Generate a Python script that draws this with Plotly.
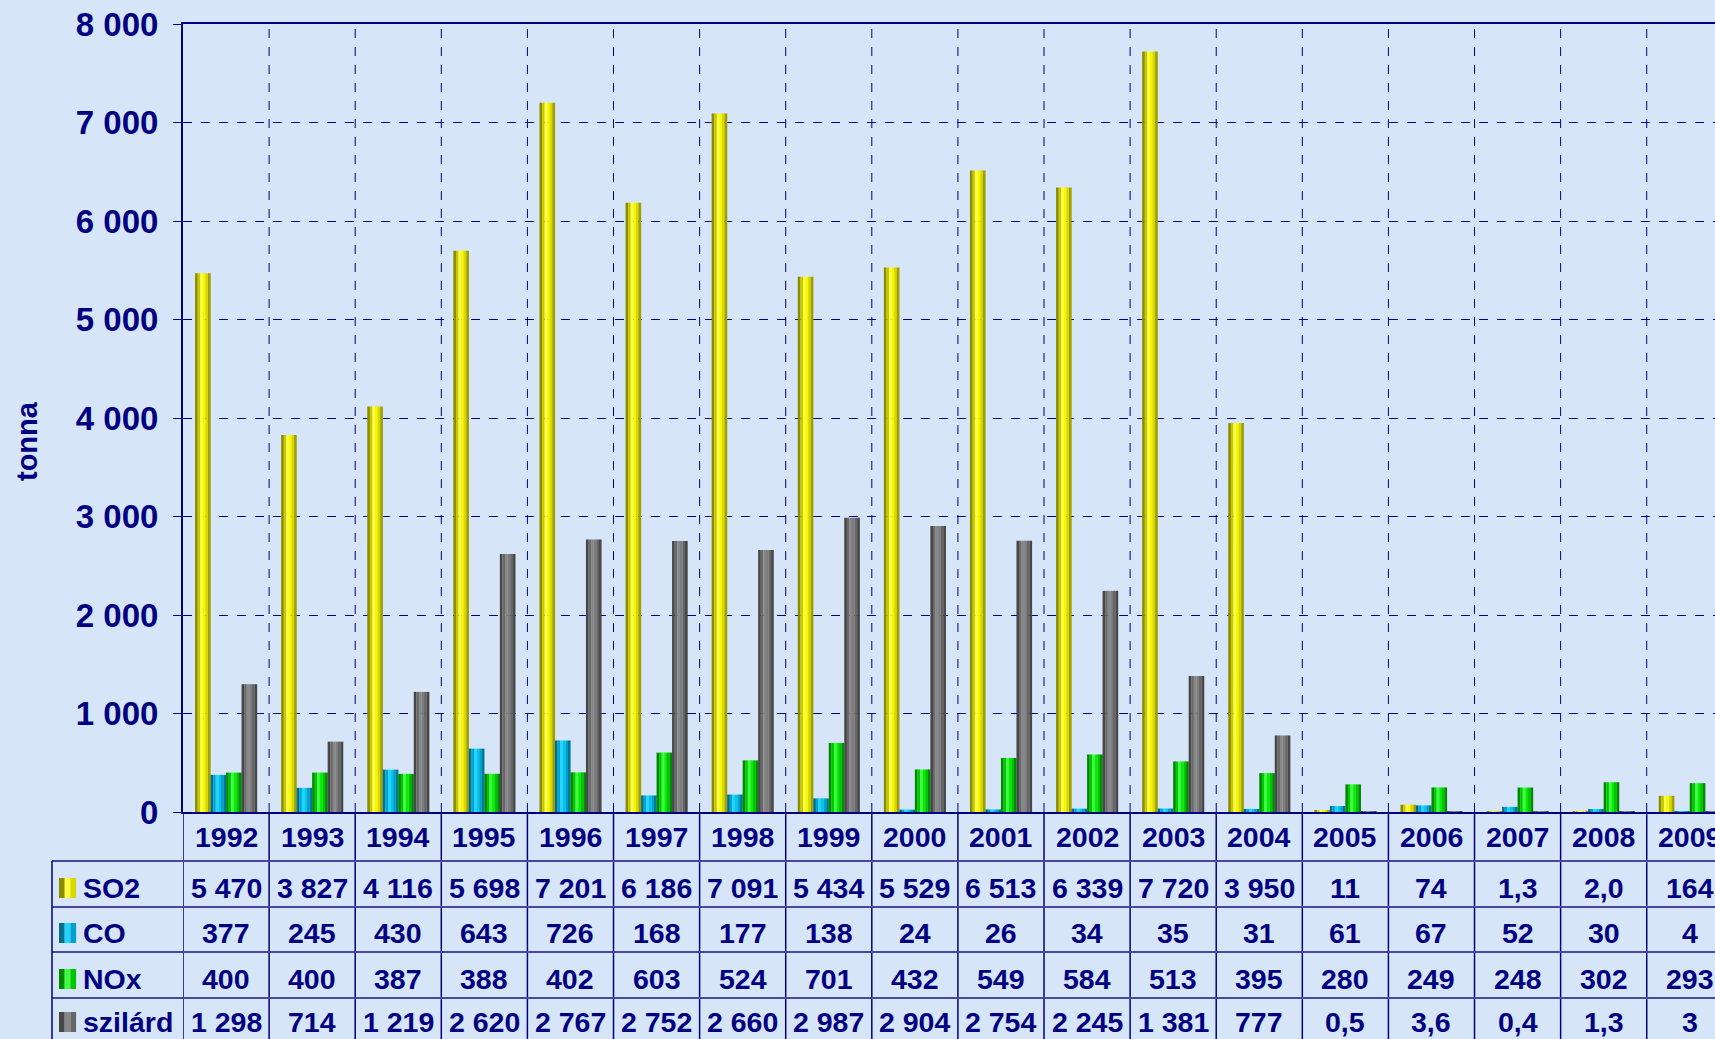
import plotly.graph_objects as go

years = ["1992", "1993", "1994", "1995", "1996", "1997", "1998", "1999", "2000",
         "2001", "2002", "2003", "2004", "2005", "2006", "2007", "2008", "2009"]
series_names = ["SO2", "CO", "NOx", "szilárd"]
so2 = [5470, 3827, 4116, 5698, 7201, 6186, 7091, 5434, 5529, 6513, 6339, 7720, 3950, 11, 74, 1.3, 2.0, 164]
co = [377, 245, 430, 643, 726, 168, 177, 138, 24, 26, 34, 35, 31, 61, 67, 52, 30, 4]
nox = [400, 400, 387, 388, 402, 603, 524, 701, 432, 549, 584, 513, 395, 280, 249, 248, 302, 293]
szilard = [1298, 714, 1219, 2620, 2767, 2752, 2660, 2987, 2904, 2754, 2245, 1381, 777, 0.5, 3.6, 0.4, 1.3, 3]
so2_text = ["5 470", "3 827", "4 116", "5 698", "7 201", "6 186", "7 091", "5 434", "5 529", "6 513",
            "6 339", "7 720", "3 950", "11", "74", "1,3", "2,0", "164"]
co_text = ["377", "245", "430", "643", "726", "168", "177", "138", "24", "26", "34", "35", "31",
           "61", "67", "52", "30", "4"]
nox_text = ["400", "400", "387", "388", "402", "603", "524", "701", "432", "549", "584", "513",
            "395", "280", "249", "248", "302", "293"]
szilard_text = ["1 298", "714", "1 219", "2 620", "2 767", "2 752", "2 660", "2 987", "2 904",
                "2 754", "2 245", "1 381", "777", "0,5", "3,6", "0,4", "1,3", "3"]
y_title = "tonna"

values = [so2, co, nox, szilard]
texts = [so2_text, co_text, nox_text, szilard_text]

# cylinder shading (left -> right)
shades = [
    ["#8C8C00", "#C8C800", "#FFFF40", "#F7F700", "#D8D800", "#A0A000"],
    ["#00708F", "#00A4D2", "#20D4FF", "#00C6F2", "#00A2CC", "#007898"],
    ["#008800", "#00C800", "#40FF40", "#00F000", "#00C400", "#008C00"],
    ["#474747", "#6A6A6A", "#878787", "#7C7C7C", "#666666", "#484848"],
]

NAVY = "#000080"
FONT = "Liberation Sans, Arial, sans-serif"
BG = "#D6E6F8"

xs = list(range(len(years)))
bar_w = 0.18
n_str = len(shades[0])
sw = bar_w / n_str

fig = go.Figure()
for s, vals in enumerate(values):
    for k, col in enumerate(shades[s]):
        fig.add_trace(go.Bar(
            x=xs, y=vals, width=sw * 1.05,
            offset=-0.36 + s * bar_w + k * sw,
            marker=dict(color=col, line=dict(width=0)),
            name=series_names[s], showlegend=False,
            hoverinfo="skip" if k else "y",
        ))

def py(px):
    return (812.0 - px) / 788.0

def pxx(px):
    return (px - 183.0) / 1532.0

shapes = []
# table vertical lines at category boundaries
for i in range(len(years) + 1):
    shapes.append(dict(type="line", xref="x", yref="paper", x0=i - 0.5, x1=i - 0.5,
                       y0=0, y1=py(1045), line=dict(color=NAVY, width=1.5), layer="above"))
# dashed vertical gridlines in plot
for i in range(1, len(years) + 1):
    shapes.append(dict(type="line", xref="x", yref="paper", x0=i - 0.5, x1=i - 0.5,
                       y0=0, y1=1, line=dict(color=NAVY, width=1, dash="dash"), layer="below"))
# table horizontal lines
for ypx in [861, 907, 952, 998]:
    shapes.append(dict(type="line", xref="paper", yref="paper", x0=pxx(52), x1=1.0,
                       y0=py(ypx), y1=py(ypx), line=dict(color="#4848A0", width=2), layer="above"))
# left border of the table rows
shapes.append(dict(type="line", xref="paper", yref="paper", x0=pxx(52), x1=pxx(52),
                   y0=py(861), y1=py(1045), line=dict(color=NAVY, width=1.5), layer="above"))

annotations = []
row_text_y = [888, 933, 979, 1022]
for i, yr in enumerate(years):
    annotations.append(dict(x=i, y=py(836.5), xref="x", yref="paper", text="<b>%s</b>" % yr,
                            showarrow=False, font=dict(family=FONT, size=28.5, color=NAVY),
                            xanchor="center", yanchor="middle"))
for s in range(4):
    yc = py(row_text_y[s])
    for i in range(len(years)):
        annotations.append(dict(x=i, y=yc, xref="x", yref="paper", text="<b>%s</b>" % texts[s][i],
                                showarrow=False, font=dict(family=FONT, size=28.5, color=NAVY),
                                xanchor="center", yanchor="middle"))
    annotations.append(dict(x=pxx(81), y=yc, xref="paper", yref="paper",
                            text="<b>%s</b>" % series_names[s], showarrow=False,
                            font=dict(family=FONT, size=28.5, color=NAVY), xanchor="left", yanchor="middle"))
    # legend key with shading
    kx0 = 59
    for k, col in enumerate([shades[s][0], shades[s][2], shades[s][4]]):
        shapes.append(dict(type="rect", xref="paper", yref="paper",
                           x0=pxx(kx0 + 5.7 * k), x1=pxx(kx0 + 5.7 * (k + 1)),
                           y0=py(row_text_y[s] + 10), y1=py(row_text_y[s] - 10),
                           fillcolor=col, line=dict(width=0), layer="above"))

annotations.append(dict(x=pxx(27), y=py(441), xref="paper", yref="paper", text="<b>%s</b>" % y_title,
                        textangle=-90, showarrow=False, font=dict(family=FONT, size=29, color=NAVY),
                        xanchor="center", yanchor="middle"))

fig.update_layout(
    width=1715, height=1039,
    margin=dict(l=183, r=0, t=24, b=227),
    paper_bgcolor=BG, plot_bgcolor=BG,
    barmode="overlay",
    separators=", ",
    showlegend=False,
    shapes=shapes,
    annotations=annotations,
    xaxis=dict(range=[-0.5, 17.293], showgrid=False, zeroline=False, showticklabels=False,
               ticks="", showline=True, mirror=True, linecolor=NAVY, linewidth=2),
    yaxis=dict(range=[0, 8000], dtick=1000, tickformat=",d", showgrid=True, gridcolor=NAVY,
               gridwidth=1, griddash="dash", zeroline=False, showline=True, linecolor=NAVY,
               linewidth=2, ticks="outside", ticklen=8, tickcolor=NAVY, ticklabelstandoff=8,
               tickfont=dict(family=FONT, size=33, color=NAVY, weight="bold")),
)

fig.write_html("out.html", config={"displayModeBar": False},
               post_script="document.body.style.margin='0';document.body.style.overflow='hidden';"
                           "document.body.style.background='%s';" % BG)
